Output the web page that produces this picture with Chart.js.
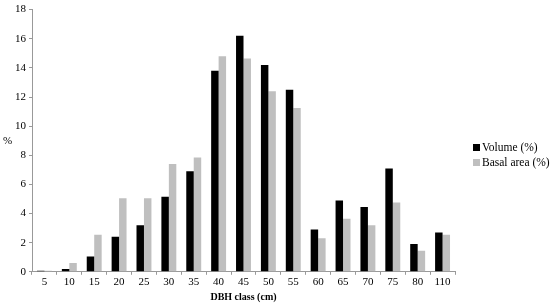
<!DOCTYPE html>
<html>
<head>
<meta charset="utf-8">
<script src="https://cdn.jsdelivr.net/npm/chart.js@4"></script>
<style>
  html, body { margin: 0; padding: 0; background: #fff; }
  #wrap { width: 550px; height: 303px; position: relative; }
  #legend { position: absolute; left: 473px; top: 140px; font: 11.5px 'Liberation Serif', 'Times New Roman', serif; color: #000; }
  #legend div { height: 15px; line-height: 15px; white-space: nowrap; }
  #legend span.box { display: inline-block; width: 7px; height: 7px; margin-right: 2px; vertical-align: 0px; }
</style>
</head>
<body>
<div id="wrap"><canvas id="dbhChart"></canvas><div id="legend"></div></div>
<script>
  // DBH classes (cm)
  const dbhClasses = ['5', '10', '15', '20', '25', '30', '35', '40', '45', '50', '55', '60', '65', '70', '75', '80', '110'];
  // percentage values
  const volumePct = [0.07, 0.2, 1.05, 2.4, 3.2, 5.15, 6.9, 13.8, 16.2, 14.2, 12.5, 2.9, 4.9, 4.45, 7.1, 1.9, 2.7];
  const basalAreaPct = [0.07, 0.6, 2.55, 5.05, 5.05, 7.4, 7.85, 14.8, 14.65, 12.4, 11.25, 2.3, 3.65, 3.2, 4.75, 1.45, 2.55];

  const serif = "'Liberation Serif', 'Times New Roman', serif";

  // "%" label sits horizontally to the left of the y axis
  const percentLabel = {
    id: 'percentLabel',
    afterDraw(chart) {
      const ctx = chart.ctx;
      const y = chart.scales.y;
      ctx.save();
      ctx.font = '11px ' + serif;
      ctx.fillStyle = '#000';
      ctx.textBaseline = 'middle';
      ctx.fillText('%', 3, (y.top + y.bottom) / 2);
      ctx.restore();
    }
  };

  // legend built from the datasets, placed to the right of the plot
  const htmlLegend = {
    id: 'htmlLegend',
    afterUpdate(chart) {
      const box = document.getElementById('legend');
      box.innerHTML = '';
      chart.data.datasets.forEach(ds => {
        const row = document.createElement('div');
        const sw = document.createElement('span');
        sw.className = 'box';
        sw.style.background = ds.backgroundColor;
        row.appendChild(sw);
        row.appendChild(document.createTextNode(ds.label));
        box.appendChild(row);
      });
    }
  };

  new Chart(document.getElementById('dbhChart'), {
    type: 'bar',
    data: {
      labels: dbhClasses,
      datasets: [
        { label: 'Volume (%)', data: volumePct, backgroundColor: '#000000' },
        { label: 'Basal area (%)', data: basalAreaPct, backgroundColor: '#bfbfbf' }
      ]
    },
    options: {
      responsive: true,
      maintainAspectRatio: false,
      animation: false,
      datasets: { bar: { categoryPercentage: 0.6, barPercentage: 1.0 } },
      layout: { padding: { left: 12, top: 0, right: 95, bottom: 0 } },
      plugins: {
        legend: { display: false },
        tooltip: { enabled: false }
      },
      scales: {
        x: {
          grid: { drawOnChartArea: false, color: '#999', tickLength: 3 },
          border: { color: '#999' },
          ticks: { color: '#000', font: { family: serif, size: 11 }, padding: 1, maxRotation: 0 },
          title: { display: true, text: 'DBH class (cm)', color: '#000', font: { family: serif, size: 10, weight: 'bold' }, padding: { top: 1, bottom: 0 } }
        },
        y: {
          min: 0,
          max: 18,
          ticks: { stepSize: 2, color: '#000', font: { family: serif, size: 11 }, padding: 3 },
          grid: { drawOnChartArea: false, color: '#999', tickLength: 3 },
          border: { color: '#999' }
        }
      }
    },
    plugins: [percentLabel, htmlLegend]
  });
</script>
</body>
</html>
